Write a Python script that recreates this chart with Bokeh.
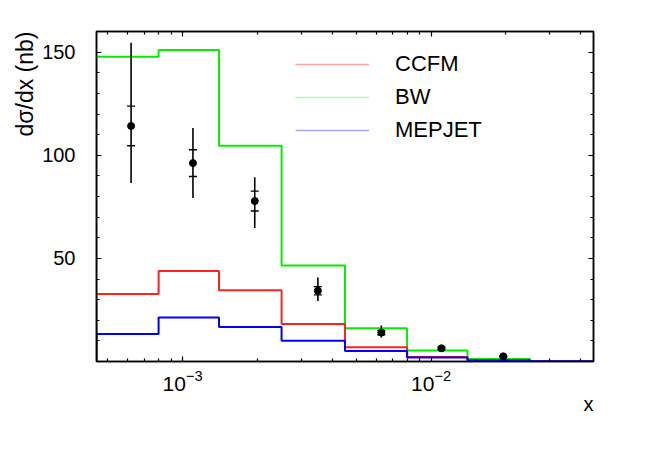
import numpy as np
from bokeh.plotting import figure
from bokeh.models import (Range1d, FixedTicker, LogAxis, LinearAxis, Legend, Title,
                          LegendItem, CustomJSTickFormatter, LogTickFormatter)
from bokeh.embed import file_html
from bokeh.resources import INLINE

# ---------------- data ----------------
bin_edges = [4.5e-4, 8e-4, 1.4e-3, 2.5e-3, 4.5e-3, 8e-3, 1.4e-2, 2.5e-2, 4.5e-2]
ccfm   = [32.7, 43.9, 34.5, 18.2, 6.9, 2.2, 0.6, 0.0]
bw     = [147.8, 151.0, 104.6, 46.5, 16.1, 5.3, 1.2, 0.0]
mepjet = [13.3, 21.3, 16.7, 10.1, 5.1, 2.0, 0.5, 0.1]

x_data  = [6.2e-4, 1.1e-3, 1.95e-3, 3.5e-3, 6.3e-3, 1.1e-2, 1.95e-2]
y_data  = [114.2, 96.2, 77.8, 34.3, 14.0, 6.4, 2.5]
stat_err = [9.6, 6.5, 4.8, 2.0, 1.0, 0.5, 0.3]
tot_up  = [40.4, 17.0, 11.5, 6.4, 3.5, 0.8, 0.5]
tot_dn  = [27.7, 16.9, 13.1, 5.0, 2.4, 0.8, 0.5]

x_major_ticks = [1e-3, 1e-2]
y_major_ticks = [50, 100, 150]
y_minor_ticks = list(range(10, 161, 10))
x_minor_ticks = [k * 10.0 ** e for e in (-4, -3, -2) for k in range(2, 10)
                 if 4.5e-4 <= k * 10.0 ** e <= 4.5e-2]

FONT = "Liberation Sans"

p = figure(width=654, height=452, x_axis_type="log",
           x_range=Range1d(4.5e-4, 4.5e-2), y_range=Range1d(0, 160),
           output_backend="svg", toolbar_location=None,
           min_border_left=96, min_border_right=61, min_border_top=31, min_border_bottom=91)
p.xgrid.visible = False
p.ygrid.visible = False
p.outline_line_color = "black"
p.outline_line_width = 1.5
p.background_fill_color = "white"
p.border_fill_color = "white"

empty_fmt = CustomJSTickFormatter(code="return ''")

def style_axis(ax, hide_labels):
    ax.axis_line_width = 1.5
    ax.axis_line_color = "black"
    ax.major_tick_in = 5
    ax.major_tick_out = 0
    ax.minor_tick_in = 3
    ax.minor_tick_out = 0
    ax.major_tick_line_width = 1.2
    ax.minor_tick_line_width = 1.2
    ax.major_label_text_font = FONT
    ax.major_label_text_font_size = "20px"
    ax.major_label_text_color = "black"
    if hide_labels:
        ax.formatter = empty_fmt
        ax.major_label_standoff = 0
        ax.major_label_text_font_size = "0px"

xt = FixedTicker(ticks=x_major_ticks, minor_ticks=x_minor_ticks)
yt = FixedTicker(ticks=y_major_ticks, minor_ticks=y_minor_ticks)

p.xaxis.ticker = xt
p.yaxis.ticker = yt
style_axis(p.xaxis[0], False)
style_axis(p.yaxis[0], False)
p.xaxis.formatter = LogTickFormatter()
p.xaxis.major_label_text_font_size = "21px"
p.xaxis.major_label_standoff = 8
p.yaxis.major_label_standoff = 21

top = LogAxis(ticker=xt)
style_axis(top, True)
p.add_layout(top, "above")
right = LinearAxis(ticker=yt)
style_axis(right, True)
p.add_layout(right, "right")

# ---------------- histograms ----------------
def step_path(vals):
    xs = np.repeat(bin_edges, 2)
    ys = np.concatenate([[0.0], np.repeat(vals, 2), [0.0]])
    return xs, ys

for vals, col in [(bw, "#00f000"), (ccfm, "#ff2020"), (mepjet, "#0000ff")]:
    xs, ys = step_path(vals)
    p.line(xs, ys, line_color=col, line_width=2)

# ---------------- data points ----------------
y_data_a = np.array(y_data)
p.segment(x0=x_data, x1=x_data, y0=y_data_a - np.array(tot_dn), y1=y_data_a + np.array(tot_up),
          line_color="black", line_width=1.6)
p.scatter(x=x_data + x_data, y=list(y_data_a + np.array(stat_err)) + list(y_data_a - np.array(stat_err)),
          marker="dash", size=8, line_color="black", line_width=1.4)
p.scatter(x=x_data, y=y_data, marker="circle", size=7, fill_color="black", line_color="black")

# ---------------- legend ----------------
r_c = p.line([1e-3, 2e-3], [np.nan, np.nan], line_color="#ff0000", line_alpha=0.35, line_width=1.5)
r_b = p.line([1e-3, 2e-3], [np.nan, np.nan], line_color="#00ff00", line_alpha=0.35, line_width=1.5)
r_m = p.line([1e-3, 2e-3], [np.nan, np.nan], line_color="#0000ff", line_alpha=0.35, line_width=1.5)
legend = Legend(items=[LegendItem(label="CCFM", renderers=[r_c]),
                       LegendItem(label="BW", renderers=[r_b]),
                       LegendItem(label="MEPJET", renderers=[r_m])],
                location=(199, 216), glyph_width=74, glyph_height=30, label_height=30,
                label_standoff=26, spacing=3, padding=0, margin=0,
                label_text_font=FONT, label_text_font_size="22px", label_text_color="black",
                border_line_alpha=0, background_fill_alpha=0)
p.add_layout(legend)

# ---------------- axis titles ----------------
p.add_layout(Title(text="x", align="right", standoff=-5, text_font=FONT, text_color="black",
                   text_font_size="20px", text_font_style="normal"), "below")
p.add_layout(Title(text="dσ/dx (nb)", align="right", standoff=4, offset=0, text_font=FONT,
                   text_color="black", text_font_size="23px", text_font_style="normal"), "left")

open("out.html", "w").write(file_html(p, INLINE))
